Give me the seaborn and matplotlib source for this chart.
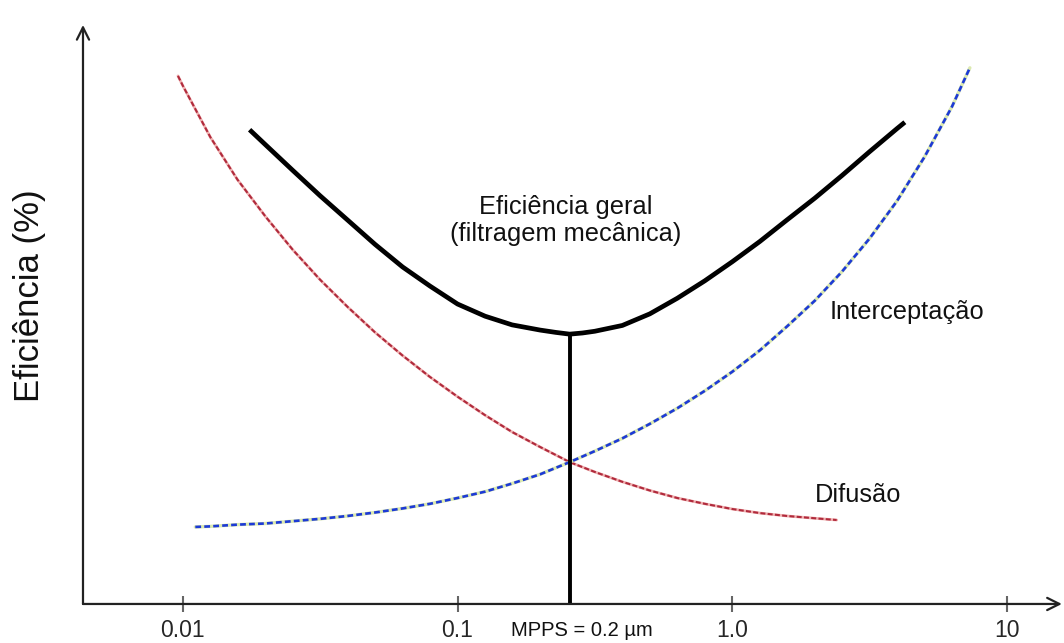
import matplotlib
matplotlib.use("Agg")
import matplotlib.pyplot as plt
from matplotlib import font_manager
import numpy as np
import pandas as pd
import seaborn as sns

# Particle diameter (um) vs efficiency (%)
dif_x = [0.0096, 0.01, 0.0126, 0.0158, 0.02, 0.0251, 0.0316, 0.0398, 0.0501,
         0.0631, 0.0794, 0.1, 0.126, 0.158, 0.2, 0.256, 0.316, 0.398, 0.501,
         0.631, 0.794, 1.0, 1.26, 1.58, 2.0, 2.40]
dif_y = [91.2, 89.5, 80.6, 73.3, 66.9, 61.2, 56.0, 51.3, 46.9,
         42.9, 39.2, 35.8, 32.6, 29.7, 27.1, 24.5, 22.8, 21.1, 19.6,
         18.3, 17.3, 16.4, 15.7, 15.2, 14.8, 14.5]

int_x = [0.0111, 0.0126, 0.0158, 0.02, 0.0251, 0.0316, 0.0398, 0.0501, 0.0631,
         0.0794, 0.1, 0.126, 0.158, 0.2, 0.256, 0.316, 0.398, 0.501, 0.631,
         0.794, 1.0, 1.26, 1.58, 2.0, 2.51, 3.16, 3.98, 5.01, 6.31, 7.33]
int_y = [13.3, 13.4, 13.7, 13.9, 14.3, 14.7, 15.2, 15.8, 16.5,
         17.3, 18.3, 19.4, 20.8, 22.4, 24.5, 26.4, 28.6, 31.1, 33.8,
         36.8, 40.1, 43.8, 47.9, 52.4, 57.4, 63.1, 69.6, 77.2, 85.9, 92.6]

tot_x = [0.0175, 0.02, 0.0251, 0.0316, 0.0398, 0.0501, 0.0631, 0.0794, 0.1,
         0.126, 0.158, 0.2, 0.228, 0.256, 0.285, 0.316, 0.398, 0.501, 0.631,
         0.794, 1.0, 1.26, 1.58, 2.0, 2.51, 3.16, 3.98, 4.25]
tot_y = [81.9, 79.3, 74.9, 70.5, 66.3, 62.1, 58.2, 54.9, 51.8,
         49.7, 48.2, 47.3, 46.9, 46.6, 46.8, 47.1, 48.1, 50.1, 52.8,
         55.8, 59.1, 62.6, 66.3, 70.1, 74.0, 78.1, 82.1, 83.2]

mpps_x = 0.256
mpps_y = 46.6

xticks = [0.01, 0.1, 1.0, 10]
xticklabels = ["0.01", "0.1", "1.0", "10"]

sns.set_style("white")
plt.rcParams['font.family'] = ['Liberation Sans', 'DejaVu Sans']

try:
    font_manager.findfont('Liberation Sans Narrow', fallback_to_default=False)
    narrow = 'Liberation Sans Narrow'
    mpps_size = 17
except ValueError:
    narrow = 'Liberation Sans'
    mpps_size = 14.5

fig = plt.figure(figsize=(10.64, 6.43), dpi=100)
ax = fig.add_axes([0.078, 0.0607, 0.920, 0.9005])

# Difusao: red dashes over a pale line
sns.lineplot(x=dif_x, y=dif_y, ax=ax, color="#efb0b0", lw=2.0)
sns.lineplot(x=dif_x, y=dif_y, ax=ax, color="#b02a3c", lw=1.5)
ax.lines[-1].set_dashes([2.4, 1.1])

# Interceptacao: blue dashes over a pale line
sns.lineplot(x=int_x, y=int_y, ax=ax, color="#dbe9b0", lw=2.4)
sns.lineplot(x=int_x, y=int_y, ax=ax, color="#1d3ad6", lw=1.9)
ax.lines[-1].set_dashes([2.2, 1.2])

# overall efficiency
sns.lineplot(x=tot_x, y=tot_y, ax=ax, color="black", lw=3.4)
ax.lines[-1].set_solid_capstyle("butt")
ax.lines[-1].set_solid_joinstyle("round")
ax.plot([mpps_x, mpps_x], [0, mpps_y], color="black", lw=2.8,
        solid_capstyle="butt")

ax.set_xscale("log")
ax.set_xlim(0.00433, 15.85)
ax.set_ylim(0, 100)

for s in ax.spines.values():
    s.set_visible(False)
ax.annotate("", xy=(1.0, 0), xytext=(0, 0), xycoords="axes fraction",
            arrowprops=dict(arrowstyle="->", lw=1.6, color="#222222",
                            mutation_scale=22, shrinkA=0, shrinkB=0))
ax.annotate("", xy=(0, 1.0), xytext=(0, 0), xycoords="axes fraction",
            arrowprops=dict(arrowstyle="->", lw=1.6, color="#222222",
                            mutation_scale=22, shrinkA=0, shrinkB=0))

ax.set_xticks(xticks)
ax.set_xticklabels(xticklabels, fontsize=16.5)
ax.minorticks_off()
ax.tick_params(axis="x", direction="inout", length=11, width=1.5,
               color="#666666", pad=5, bottom=True)
ax.set_yticks([])
ax.set_xlabel("")
ax.set_ylabel("")

fig.text(30 / 1064, 1 - 296 / 643, "Eficiência (%)", rotation=90,
         ha="center", va="center", fontsize=25, color="#111111")
fig.text(582 / 1064, 1 - 630 / 643, "MPPS = 0.2 µm", ha="center",
         va="center", fontsize=mpps_size, family=[narrow, 'DejaVu Sans'],
         color="#111111")

ax.text(0.248, 66.3, "Eficiência geral\n(filtragem mecânica)", ha="center",
        va="center", fontsize=18.3, linespacing=1.15, color="#111111")
ax.text(2.26, 50.4, "Interceptação", ha="left", va="center", fontsize=18.3,
        color="#111111")
ax.text(2.0, 18.8, "Difusão", ha="left", va="center", fontsize=18.3,
        color="#111111")

fig.savefig("out.png", dpi=100)
